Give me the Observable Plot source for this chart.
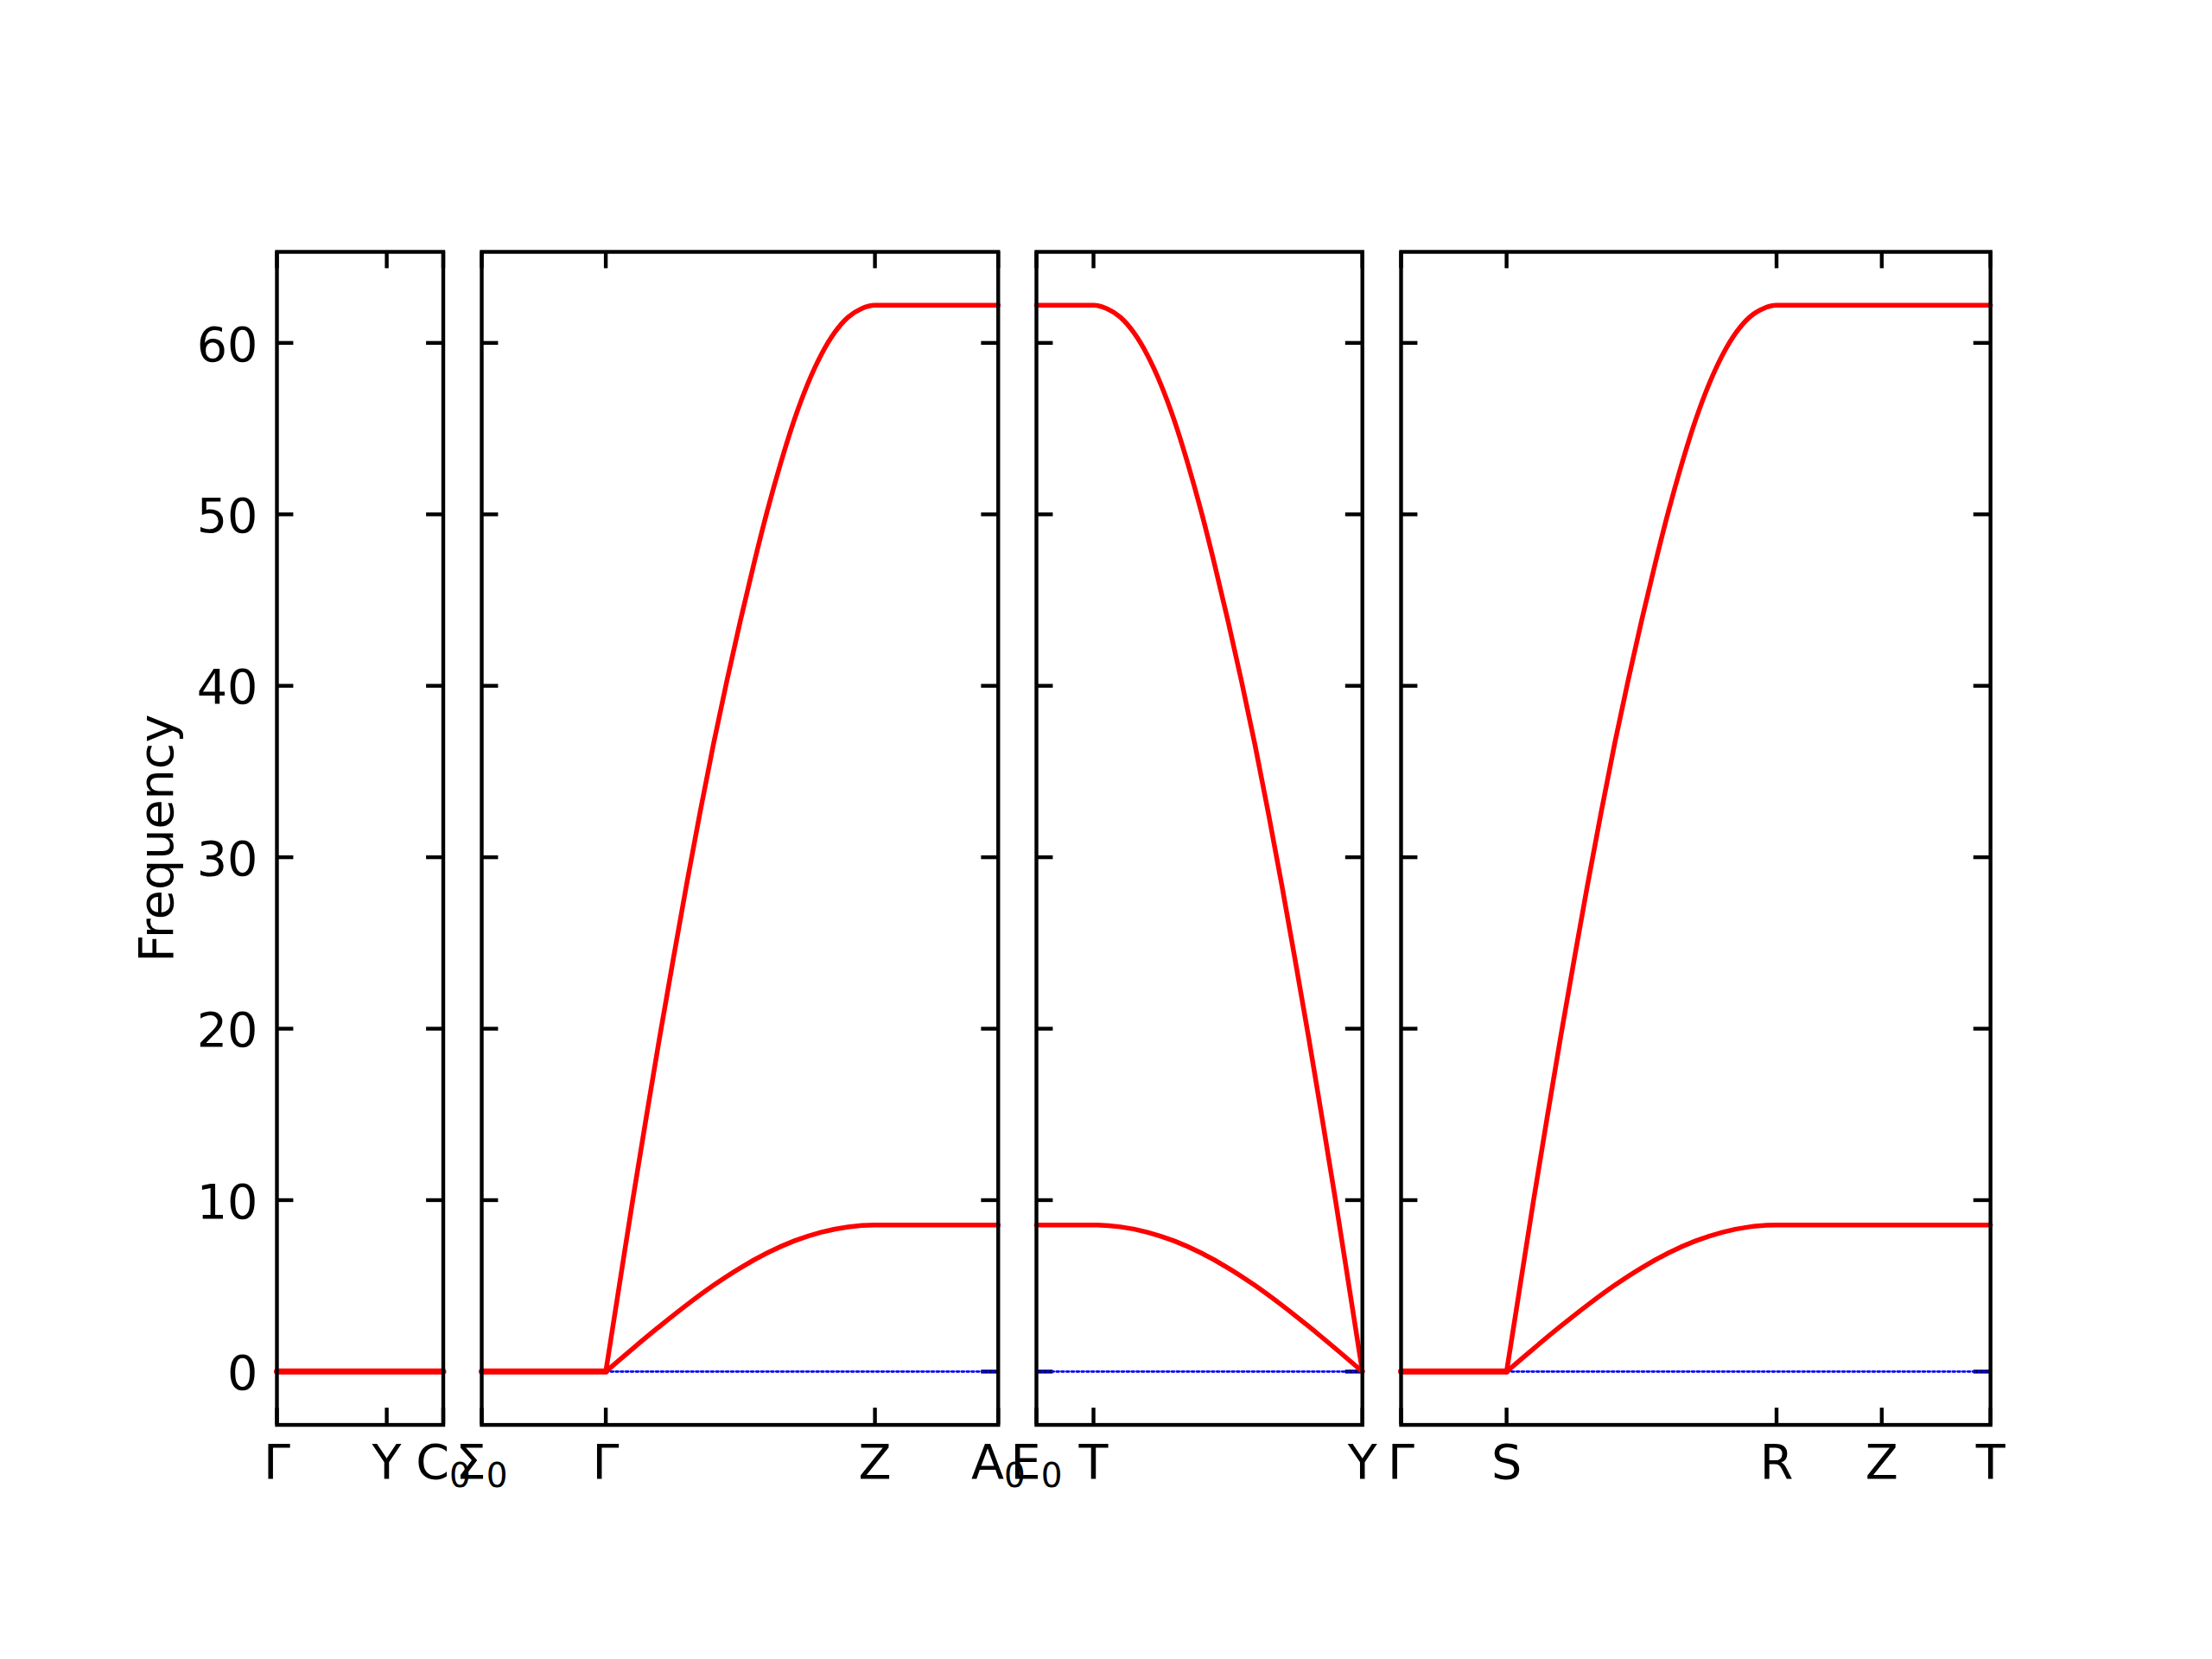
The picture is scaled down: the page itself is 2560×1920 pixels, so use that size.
<!DOCTYPE html>
<html>
<head>
<meta charset="utf-8">
<script src="https://cdn.jsdelivr.net/npm/d3@7"></script>
<script src="https://cdn.jsdelivr.net/npm/@observablehq/plot@0.6"></script>
<style>
html, body { margin: 0; padding: 0; background: #ffffff; }
#chart { position: relative; width: 2560px; height: 1920px; overflow: hidden; background: #ffffff; }
#chart svg { position: absolute; }
</style>
</head>
<body>
<div id="chart"></div>
<script>
// ---------------- data ----------------
const yLabel = "Frequency";
const yTicks = [0, 10, 20, 30, 40, 50, 60];
const yDomain = [-3.11, 65.31];

// high-symmetry path: labels and path positions for each panel
const pathLabels = [
  ["Γ", "Y", "C₀"],
  ["Σ₀", "Γ", "Z", "A₀"],
  ["E₀", "T", "Y"],
  ["Γ", "S", "R", "Z", "T"]
];
const pathTicks = [
  [0, 0.408, 0.618],
  [0, 0.461, 1.461, 1.919],
  [0, 0.212, 1.211],
  [0, 0.392, 1.395, 1.786, 2.190]
];

// segment on which the two branches disperse (start = frequency 0, end = maximum)
const branchStart = [null, 0.461, 1.211, 0.392];
const branchEnd   = [null, 1.461, 0.212, 1.395];

// upper branch, read along a dispersing segment (fraction t of the segment)
const upperT    = [0, 0.05, 0.1, 0.15, 0.2, 0.25, 0.3, 0.35, 0.4, 0.45, 0.5, 0.55, 0.6, 0.65, 0.7, 0.75, 0.8, 0.85, 0.9, 0.95, 1];
const upperFreq = [0, 5.0, 10.0, 14.8, 19.5, 24.0, 28.4, 32.6, 36.6, 40.3, 43.8, 47.1, 50.2, 53.0, 55.5, 57.6, 59.3, 60.6, 61.5, 62.0, 62.2];
// lower branch
const lowerT    = [0, 0.1, 0.2, 0.3, 0.4, 0.5, 0.6, 0.7, 0.8, 0.9, 1];
const lowerFreq = [0, 1.34, 2.64, 3.88, 5.03, 6.05, 6.92, 7.62, 8.13, 8.44, 8.55];

// ---------------- layout ----------------
const PX_PER_UNIT = 311.5;
const FRAME_LEFT = 320, FRAME_TOP = 290.7, FRAME_H = 1357.6, GAP = 44.5;
const FONT = 55.6, TICK = 19.4, SPINE = 4.4;
const RED = "#ff0000", BLUE = "#0000ff";

function branchRows(i, T, F) {
  const ticks = pathTicks[i];
  const k0 = ticks[0], k1 = ticks[ticks.length - 1];
  const s = branchStart[i], e = branchEnd[i];
  const rows = T.map((t, j) => ({k: s + t * (e - s), f: F[j]}));
  rows.push({k: e > s ? k1 : k0, f: F[F.length - 1]});
  return rows.sort((a, b) => a.k - b.k);
}
function zeroRedRows(i) {
  const ticks = pathTicks[i];
  const k0 = ticks[0], k1 = ticks[ticks.length - 1];
  if (branchStart[i] == null) return [{k: k0, f: 0}, {k: k1, f: 0}];
  const s = branchStart[i], e = branchEnd[i];
  const edge = e > s ? k0 : k1;
  if (edge === s) return [];
  return [{k: edge, f: 0}, {k: s, f: 0}].sort((a, b) => a.k - b.k);
}
function blueRows(i) {
  const ticks = pathTicks[i];
  const k0 = ticks[0], k1 = ticks[ticks.length - 1];
  if (branchStart[i] == null) return [];
  const s = branchStart[i], e = branchEnd[i];
  return [{k: s, f: 0}, {k: e > s ? k1 : k0, f: 0}].sort((a, b) => a.k - b.k);
}

// turn a trailing "₀" into a lowered, smaller "0" like matplotlib mathtext
function subscriptify(svg) {
  svg.querySelectorAll("text").forEach(t => {
    const s = t.textContent;
    if (s.endsWith("₀") && t.children.length === 0) {
      const base = s.slice(0, -1);
      t.textContent = base;
      const ts = document.createElementNS("http://www.w3.org/2000/svg", "tspan");
      ts.setAttribute("font-size", (FONT * 0.7).toFixed(1));
      ts.setAttribute("dy", "10");
      ts.textContent = "0";
      t.appendChild(ts);
    }
  });
}

const chart = document.getElementById("chart");
let left = FRAME_LEFT;
pathTicks.forEach((ticks, i) => {
  const k0 = ticks[0], k1 = ticks[ticks.length - 1];
  const w = (k1 - k0) * PX_PER_UNIT;
  const mL = i === 0 ? 220 : 40, mR = 40, mT = 30, mB = 130;
  const labels = pathLabels[i];
  const marks = [
    // inward ticks on all four sides
    Plot.ruleY(yTicks, {y: d => d, x1: k0, x2: k0, insetRight: -TICK, stroke: "black", strokeWidth: SPINE}),
    Plot.ruleY(yTicks, {y: d => d, x1: k1, x2: k1, insetLeft: -TICK, stroke: "black", strokeWidth: SPINE}),
    Plot.ruleX(ticks, {x: d => d, y1: yDomain[0], y2: yDomain[0], insetTop: -TICK, stroke: "black", strokeWidth: SPINE}),
    Plot.ruleX(ticks, {x: d => d, y1: yDomain[1], y2: yDomain[1], insetBottom: -TICK, stroke: "black", strokeWidth: SPINE}),
    // bands
    Plot.line(zeroRedRows(i), {x: "k", y: "f", stroke: RED, strokeWidth: 7}),
    Plot.line(blueRows(i), {x: "k", y: "f", stroke: BLUE, strokeWidth: 2.8, strokeDasharray: "2.8,3"})
  ];
  if (branchStart[i] != null) {
    marks.push(Plot.line(branchRows(i, upperT, upperFreq), {x: "k", y: "f", stroke: RED, strokeWidth: 5.5, curve: "monotone-x"}));
    marks.push(Plot.line(branchRows(i, lowerT, lowerFreq), {x: "k", y: "f", stroke: RED, strokeWidth: 5.5, curve: "monotone-x"}));
  }
  marks.push(Plot.frame({stroke: "black", strokeWidth: SPINE}));
  // x tick labels
  marks.push(Plot.text(labels, {x: (d, j) => ticks[j], text: d => d, frameAnchor: "bottom", lineAnchor: "top", dy: 22, fontSize: FONT, fill: "black"}));
  if (i === 0) {
    marks.push(Plot.text(yTicks, {y: d => d, text: d => String(d), frameAnchor: "left", textAnchor: "end", dx: -22, dy: 3, fontSize: FONT, fill: "black"}));
    marks.push(Plot.text([yLabel], {text: d => d, frameAnchor: "left", rotate: -90, dx: -120, lineAnchor: "bottom", textAnchor: "middle", fontSize: FONT, fill: "black"}));
  }
  const svg = Plot.plot({
    width: w + mL + mR,
    height: FRAME_H + mT + mB,
    marginLeft: mL, marginRight: mR, marginTop: mT, marginBottom: mB,
    x: {domain: [k0, k1], axis: null},
    y: {domain: yDomain, axis: null},
    style: {background: "transparent", overflow: "visible", fontFamily: "'DejaVu Sans', sans-serif", fontSize: FONT + "px", color: "black"},
    marks
  });
  subscriptify(svg);
  svg.style.left = (left - mL) + "px";
  svg.style.top = (FRAME_TOP - mT) + "px";
  chart.appendChild(svg);
  left += w + GAP;
});
</script>
</body>
</html>
